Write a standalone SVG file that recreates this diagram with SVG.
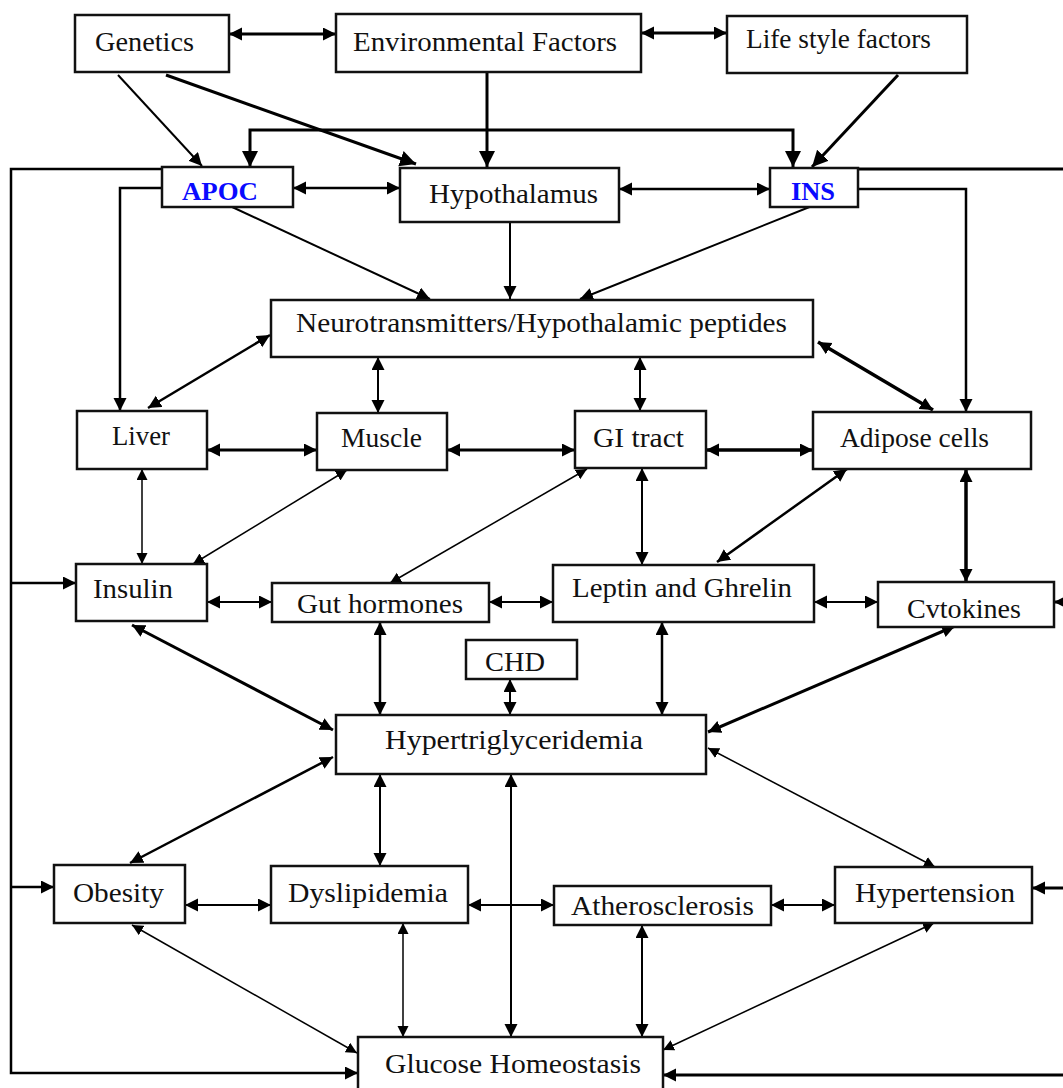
<svg xmlns="http://www.w3.org/2000/svg" width="1063" height="1088" viewBox="0 0 1063 1088">
<defs>
<style>
.box{fill:#fff;stroke:#111;stroke-width:2.5}
.t{font-family:"Liberation Serif","Times New Roman",serif;font-size:28px;fill:#111}
.b{font-family:"Liberation Serif","Times New Roman",serif;font-size:26px;font-weight:bold;fill:#0a0aff}
.c{fill:none;stroke:#000;stroke-linejoin:miter}
.w4{stroke-width:3.5}.w3{stroke-width:3}.w25{stroke-width:2.5}.w2{stroke-width:2}.w15{stroke-width:1.5}
.u{marker-end:url(#a)}
.bi{marker-start:url(#a);marker-end:url(#a)}
.ul{marker-end:url(#l)}
.bl{marker-start:url(#l);marker-end:url(#l)}
.us{marker-end:url(#s)}
.bs{marker-start:url(#s);marker-end:url(#s)}
</style>
<marker id="a" markerUnits="userSpaceOnUse" markerWidth="14" markerHeight="14" refX="13" refY="6.5" orient="auto-start-reverse"><path d="M0,0 L13,6.5 L0,13 z" fill="#000"/></marker>
<marker id="l" markerUnits="userSpaceOnUse" markerWidth="17" markerHeight="17" refX="16" refY="8" orient="auto-start-reverse"><path d="M0,0 L16,8 L0,16 z" fill="#000"/></marker>
<marker id="s" markerUnits="userSpaceOnUse" markerWidth="12" markerHeight="12" refX="11" refY="5.5" orient="auto-start-reverse"><path d="M0,0 L11,5.5 L0,11 z" fill="#000"/></marker>
</defs>
<rect width="1063" height="1088" fill="#fff"/>
<g id="connectors">
<path class="c w3 bi" d="M229,34 H336"/>
<path class="c w3 bi" d="M641,33 H727"/>
<path class="c w2 u" d="M118,75 L202,166"/>
<path class="c w3 ul" d="M166,75 L416,164"/>
<path class="c w3 ul" d="M487,72 V167"/>
<path class="c w3 bl" d="M250,167 V130 H793 V167"/>
<path class="c w3 ul" d="M898,75 L812,167"/>
<path class="c w25 bi" d="M293,188 H400"/>
<path class="c w25 bi" d="M619,189 H770"/>
<path class="c w25 u" d="M162,169 H11 V1073 H358"/>
<path class="c w25 u" d="M11,583 H76"/>
<path class="c w25 u" d="M11,887 H54"/>
<path class="c w25 u" d="M162,188 H120 V411"/>
<path class="c w3 u" d="M858,169 H1066 V1075 H663"/>
<path class="c w3 u" d="M1066,602 H1054"/>
<path class="c w3 u" d="M1066,888 H1032"/>
<path class="c w25 u" d="M858,189 H966 V412"/>
<path class="c w2 u" d="M230,206 L430,299"/>
<path class="c w2 u" d="M510,223 V299"/>
<path class="c w2 u" d="M812,206 L580,299"/>
<path class="c w25 bi" d="M270,335 L148,408"/>
<path class="c w2 bi" d="M378,357 V413"/>
<path class="c w2 bi" d="M640,357 V411"/>
<path class="c w4 bi" d="M818,342 L933,410"/>
<path class="c w3 bi" d="M207,450 H317"/>
<path class="c w3 bi" d="M447,450 H575"/>
<path class="c w4 bi" d="M706,450 H813"/>
<path class="c w15 bs" d="M142,469 V564"/>
<path class="c w15 bs" d="M347,470 L193,564"/>
<path class="c w15 bs" d="M587,469 L390,583"/>
<path class="c w2 bi" d="M642,468 V565"/>
<path class="c w25 bi" d="M847,469 L717,562"/>
<path class="c w4 bi" d="M966,469 V582"/>
<path class="c w2 bi" d="M207,602 H272"/>
<path class="c w2 bi" d="M489,602 H553"/>
<path class="c w2 bi" d="M814,602 H878"/>
<path class="c w3 bi" d="M132,625 L333,730"/>
<path class="c w25 bi" d="M380,622 V715"/>
<path class="c w2 bi" d="M510,679 V715"/>
<path class="c w25 bi" d="M662,622 V715"/>
<path class="c w3 bi" d="M955,626 L708,732"/>
<path class="c w25 bi" d="M333,757 L130,863"/>
<path class="c w2 bi" d="M380,774 V866"/>
<path class="c w2 bi" d="M511,774 V1037"/>
<path class="c w15 bs" d="M708,748 L935,867"/>
<path class="c w2 bi" d="M185,905 H271"/>
<path class="c w2 bi" d="M468,905 H554"/>
<path class="c w2 bi" d="M771,905 H835"/>
<path class="c w15 bs" d="M132,925 L357,1053"/>
<path class="c w15 bs" d="M403,923 V1037"/>
<path class="c w2 bi" d="M642,925 V1037"/>
<path class="c w15 bs" d="M934,923 L663,1050"/>
</g>
<g id="genetics"><rect class="box" x="75" y="15" width="154" height="57"/><text class="t" x="95" y="51" textLength="99" lengthAdjust="spacingAndGlyphs">Genetics</text></g>
<g id="environmental"><rect class="box" x="336" y="14" width="305" height="58"/><text class="t" x="353" y="51" textLength="264" lengthAdjust="spacingAndGlyphs">Environmental Factors</text></g>
<g id="lifestyle"><rect class="box" x="727" y="16" width="240" height="57"/><text class="t" x="746" y="48" textLength="185" lengthAdjust="spacingAndGlyphs">Life style factors</text></g>
<g id="apoc"><rect class="box" x="162" y="167" width="131" height="40"/><text class="b" x="182" y="200" textLength="76" lengthAdjust="spacingAndGlyphs">APOC</text></g>
<g id="hypothalamus"><rect class="box" x="400" y="168" width="219" height="54"/><text class="t" x="429" y="203" textLength="169" lengthAdjust="spacingAndGlyphs">Hypothalamus</text></g>
<g id="ins"><rect class="box" x="770" y="168" width="88" height="39"/><text class="b" x="791" y="200" textLength="44" lengthAdjust="spacingAndGlyphs">INS</text></g>
<g id="neuro"><rect class="box" x="271" y="300" width="542" height="57"/><text class="t" x="296" y="332" textLength="491" lengthAdjust="spacingAndGlyphs">Neurotransmitters/Hypothalamic peptides</text></g>
<g id="liver"><rect class="box" x="77" y="411" width="130" height="58"/><text class="t" x="112" y="445" textLength="58" lengthAdjust="spacingAndGlyphs">Liver</text></g>
<g id="muscle"><rect class="box" x="317" y="413" width="130" height="57"/><text class="t" x="341" y="447" textLength="81" lengthAdjust="spacingAndGlyphs">Muscle</text></g>
<g id="gitract"><rect class="box" x="575" y="411" width="131" height="57"/><text class="t" x="593" y="447" textLength="91" lengthAdjust="spacingAndGlyphs">GI tract</text></g>
<g id="adipose"><rect class="box" x="813" y="412" width="218" height="57"/><text class="t" x="840" y="447" textLength="149" lengthAdjust="spacingAndGlyphs">Adipose cells</text></g>
<g id="insulin"><rect class="box" x="76" y="564" width="131" height="57"/><text class="t" x="93" y="598" textLength="80" lengthAdjust="spacingAndGlyphs">Insulin</text></g>
<g id="gut"><rect class="box" x="272" y="583" width="217" height="39"/><text class="t" x="297" y="613" textLength="166" lengthAdjust="spacingAndGlyphs">Gut hormones</text></g>
<g id="leptin"><rect class="box" x="553" y="565" width="261" height="57"/><text class="t" x="572" y="597" textLength="220" lengthAdjust="spacingAndGlyphs">Leptin and Ghrelin</text></g>
<g id="cytokines"><rect class="box" x="878" y="582" width="176" height="45"/><text class="t" x="907" y="618" textLength="114" lengthAdjust="spacingAndGlyphs">Cvtokines</text></g>
<g id="chd"><rect class="box" x="466" y="640" width="111" height="39"/><text class="t" x="485" y="671" textLength="60" lengthAdjust="spacingAndGlyphs">CHD</text></g>
<g id="hypertrig"><rect class="box" x="336" y="715" width="370" height="59"/><text class="t" x="385" y="749" textLength="258" lengthAdjust="spacingAndGlyphs">Hypertriglyceridemia</text></g>
<g id="obesity"><rect class="box" x="54" y="865" width="131" height="58"/><text class="t" x="73" y="902" textLength="91" lengthAdjust="spacingAndGlyphs">Obesity</text></g>
<g id="dyslipidemia"><rect class="box" x="271" y="866" width="197" height="57"/><text class="t" x="288" y="902" textLength="160" lengthAdjust="spacingAndGlyphs">Dyslipidemia</text></g>
<g id="atherosclerosis"><rect class="box" x="554" y="886" width="217" height="39"/><text class="t" x="571" y="915" textLength="183" lengthAdjust="spacingAndGlyphs">Atherosclerosis</text></g>
<g id="hypertension"><rect class="box" x="835" y="867" width="197" height="56"/><text class="t" x="855" y="902" textLength="160" lengthAdjust="spacingAndGlyphs">Hypertension</text></g>
<g id="glucose"><rect class="box" x="358" y="1037" width="305" height="60"/><text class="t" x="385" y="1073" textLength="256" lengthAdjust="spacingAndGlyphs">Glucose Homeostasis</text></g>
</svg>
